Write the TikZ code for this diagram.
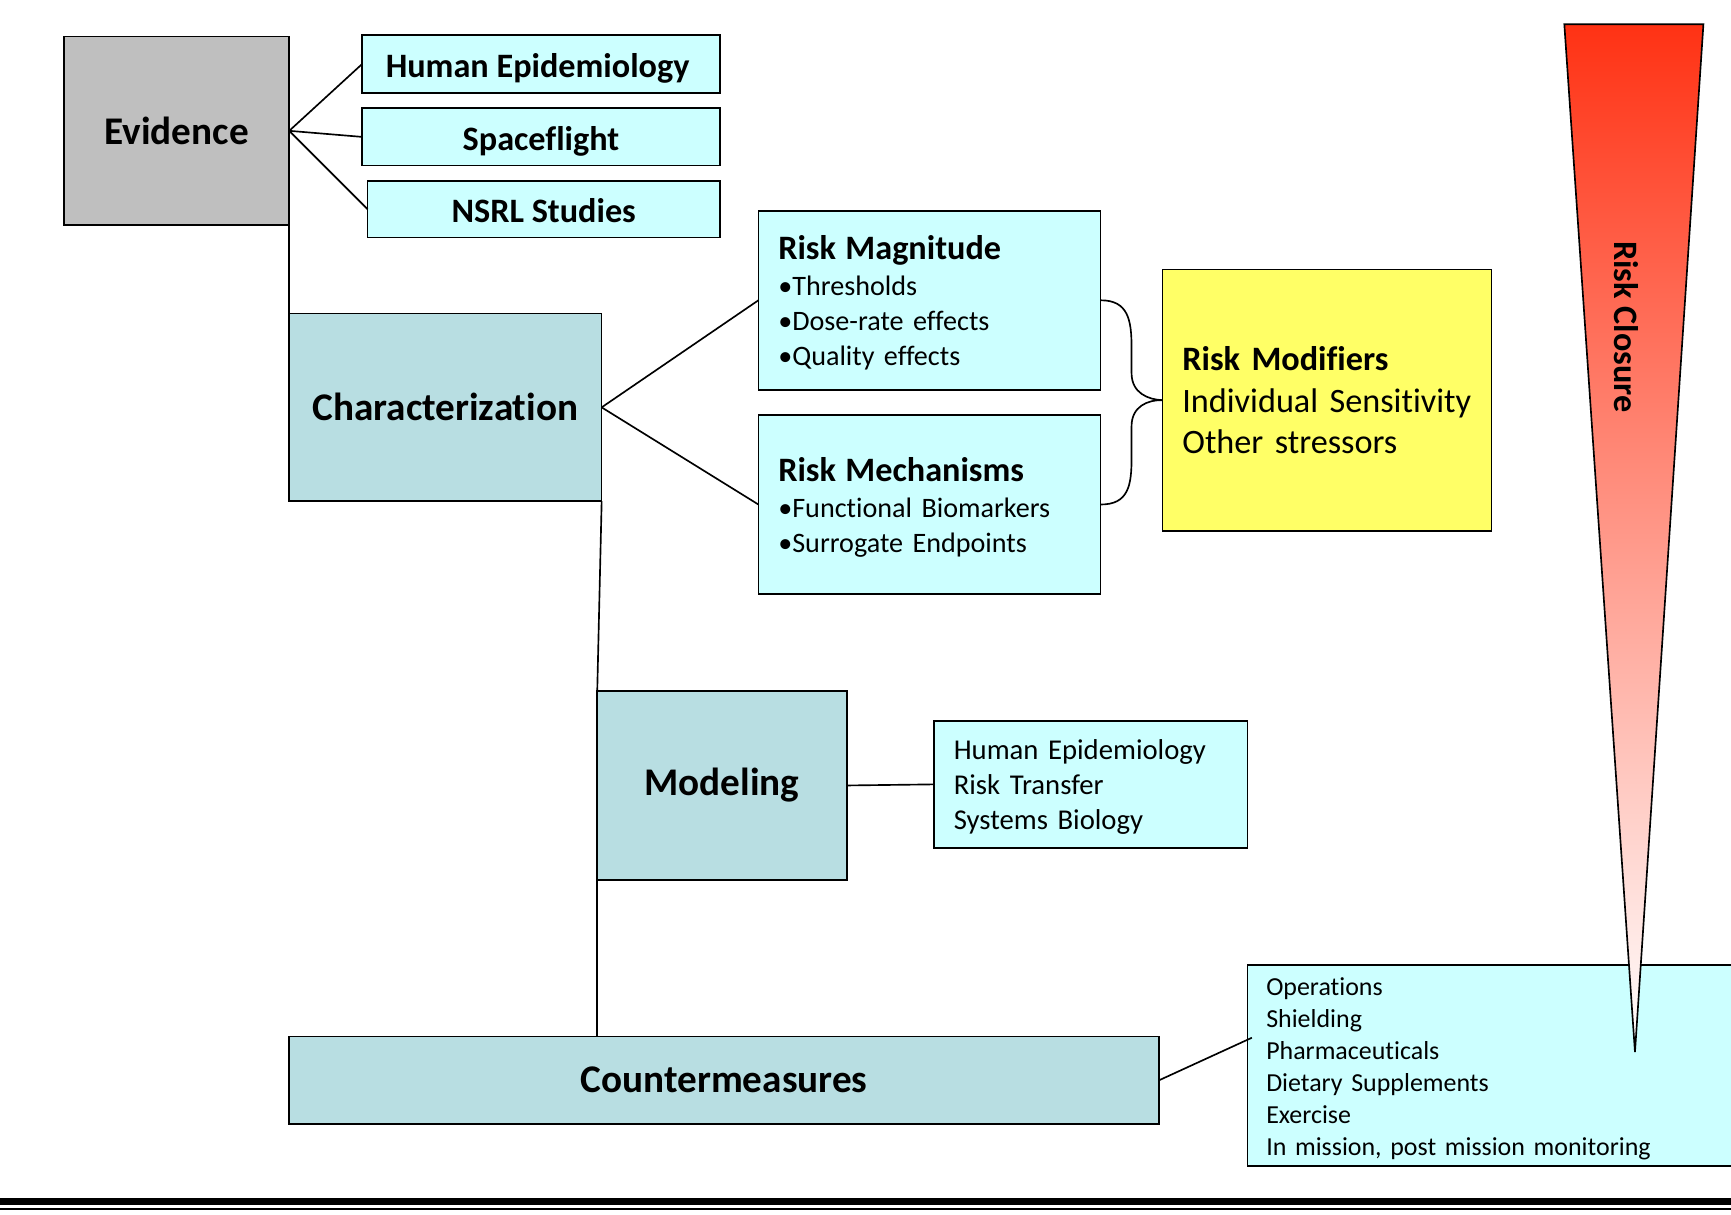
\documentclass[tikz,border=0pt]{standalone}
\usepackage{fontspec}
\setmainfont{Carlito}[Ligatures=NoCommon]
\definecolor{evgray}{RGB}{191,191,191}
\definecolor{palecyan}{RGB}{204,255,255}
\definecolor{stageteal}{RGB}{184,222,226}
\definecolor{modyellow}{RGB}{255,255,102}
\definecolor{closered}{RGB}{255,50,20}
\begin{document}
\begin{tikzpicture}[x=1pt,y=-1pt,line width=1.5pt,
  stagebox/.style={draw,fill=stageteal,inner sep=0pt,outer sep=0pt,anchor=north west,font=\fontsize{35.5}{42}\selectfont\bfseries},
  srcbox/.style={draw,fill=palecyan,inner sep=0pt,outer sep=0pt,anchor=north west,text height=24pt,text depth=0pt,font=\fontsize{31}{36}\selectfont\bfseries},
  listbox/.style={draw,fill=palecyan,inner xsep=18pt,inner ysep=0pt,outer sep=0pt,anchor=north west,align=left,font=\fontsize{25.5}{32}\selectfont}]

\clip (0,0) rectangle (1568,1100);

% Evidence and where it comes from
\node[stagebox,fill=evgray,minimum width=204pt,minimum height=171pt] (evid) at (58,33) {Evidence};
\node[srcbox,minimum width=324pt,minimum height=52pt] (humepi) at (328,32) {Human Epidemiology\hspace*{6pt}};
\node[srcbox,minimum width=324pt,minimum height=52pt] (spfl) at (328,98) {Spaceflight};
\node[srcbox,minimum width=319pt,minimum height=51pt] (nsrl) at (333,164) {NSRL Studies};
\foreach \s in {humepi,spfl,nsrl}{
  \draw (evid.east) -- (\s.west);
}

% Characterization
\node[stagebox,minimum width=283pt,minimum height=170pt] (char) at (262,284) {Characterization};
\draw (evid.south east) -- (char.north west);

\node[listbox,text width=274pt,minimum height=162pt] (mag) at (687,191)
  {\rule{0pt}{27pt}{\fontsize{31}{34}\selectfont\bfseries Risk Magnitude}\\[0pt]
   •Thresholds\\ •Dose-rate effects\\ •Quality effects};
\node[listbox,text width=274pt,minimum height=162pt] (mech) at (687,376)
  {\rule{0pt}{27pt}{\fontsize{31}{34}\selectfont\bfseries Risk Mechanisms}\\[1pt]
   •Functional Biomarkers\\ •Surrogate Endpoints};
\draw (char.east) -- (mag.west);
\draw (char.east) -- (mech.west);

\node[listbox,fill=modyellow,text width=262pt,minimum height=237pt,font=\fontsize{31}{37.5}\selectfont] (mods) at (1053,244)
  {\textbf{Risk Modifiers}\\ \mbox{Individual Sensitivity}\\ Other stressors};

% the brace
\draw (mag.east) .. controls (1022,272) and (1025,290) .. (1025,315) -- (1025,338)
  .. controls (1025,356) and (1040,362) .. (mods.west);
\draw (mech.east) .. controls (1022,457) and (1025,440) .. (1025,415) -- (1025,386)
  .. controls (1025,368) and (1040,362) .. (mods.west);

% Modeling
\node[stagebox,minimum width=226pt,minimum height=171pt] (model) at (541,626) {Modeling};
\draw (char.south east) -- (model.north west);
\node[listbox,text width=248pt,minimum height=115pt,font=\fontsize{26}{32}\selectfont] (modlist) at (846,653)
  {\rule{0pt}{23pt}Human Epidemiology\\ Risk Transfer\\ Systems Biology};
\draw (model.east) -- (modlist.west);

% Countermeasures
\node[stagebox,minimum width=788pt,minimum height=79pt] (cm) at (262,939) {Countermeasures};
\draw (model.south west) -- (model.south west |- cm.north);
\node[listbox,inner xsep=17pt,text width=416pt,minimum height=182pt,font=\fontsize{23.5}{29}\selectfont] (cmlist) at (1130,874)
  {\rule{0pt}{22pt}Operations\\ Shielding\\ Pharmaceuticals\\ Dietary Supplements\\ Exercise\\ In mission, post mission monitoring};
\draw (cm.east) -- ([xshift=4pt,yshift=25pt]cmlist.west);

% Risk closure wedge
\shadedraw[top color=closered,bottom color=white] (1417,22) -- (1543,22) -- (1481,953) -- cycle;
\node[rotate=-90,font=\fontsize{31}{36}\selectfont\bfseries] (closure) at (1473,296) {Risk Closure};

% rules at the foot
\draw[line width=6pt] (0,1088.5) -- (1568,1088.5);
\draw[line width=1.5pt] (0,1095.3) -- (1568,1095.3);

\end{tikzpicture}
\end{document}
